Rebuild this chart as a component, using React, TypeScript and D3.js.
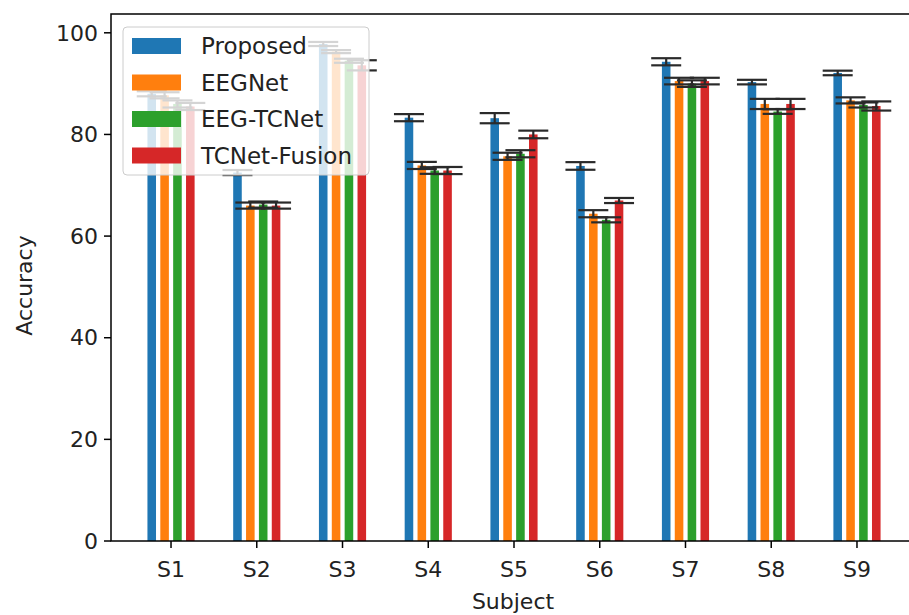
import React from 'react';
import * as d3 from 'd3';

const subjects = ['S1', 'S2', 'S3', 'S4', 'S5', 'S6', 'S7', 'S8', 'S9'];
const methods = ['Proposed', 'EEGNet', 'EEG-TCNet', 'TCNet-Fusion'];
const colors = ['#1f77b4', '#ff7f0e', '#2ca02c', '#d62728'];

// mean accuracy per subject
const proposed = [88.0, 72.5, 97.8, 83.3, 83.2, 73.8, 94.3, 90.3, 92.1];
const eegnet = [87.7, 66.0, 96.3, 73.9, 75.7, 64.4, 90.5, 86.0, 86.7];
const eegtcnet = [86.0, 66.2, 94.5, 72.9, 76.2, 63.2, 90.0, 84.5, 85.8];
const tcnetFusion = [85.5, 66.0, 93.6, 72.9, 80.0, 67.0, 90.5, 86.0, 85.6];

// error (half range)
const proposedErr = [0.5, 0.5, 0.4, 0.7, 1.0, 0.75, 0.7, 0.45, 0.45];
const eegnetErr = [0.6, 0.6, 0.3, 0.7, 0.7, 0.7, 0.65, 1.0, 0.6];
const eegtcnetErr = [0.7, 0.6, 0.4, 0.65, 0.7, 0.5, 0.65, 0.45, 0.5];
const tcnetFusionErr = [0.7, 0.6, 1.0, 0.7, 0.75, 0.5, 0.65, 1.0, 0.9];

const yTicks = [0, 20, 40, 60, 80, 100];

const series = [proposed, eegnet, eegtcnet, tcnetFusion];
const errors = [proposedErr, eegnetErr, eegtcnetErr, tcnetFusionErr];

const W = 909;
const H = 615;
const left = 111, right = 917, top = 14, bottom = 541;
const font = 'DejaVu Sans, sans-serif';

export default function App() {
    const x = d3.scaleLinear().domain([-0.7, subjects.length - 1 + 0.7]).range([left, right]);
    const y = d3.scaleLinear().domain([0, 103.7]).range([bottom, top]);

    const barW = x(0.1) - x(0);
    const step = 0.15;
    const capHalf = 15;

    return (
        <svg width={W} height={H} style={{ position: 'absolute', left: 0, top: 0, background: '#fff' }}
            fontFamily={font}>
            {/* bars */}
            {series.map((vals, si) => (
                <g key={methods[si]}>
                    {vals.map((v, i) => {
                        const cx = x(i + (si - 1.5) * step);
                        return (
                            <rect key={i} x={cx - barW / 2} y={y(v)} width={barW} height={y(0) - y(v)}
                                fill={colors[si]} />
                        );
                    })}
                </g>
            ))}
            {/* error bars */}
            {series.map((vals, si) => (
                <g key={'e' + si} stroke="#2a2a2a" strokeWidth={2.2}>
                    {vals.map((v, i) => {
                        const cx = x(i + (si - 1.5) * step);
                        const hi = y(v + errors[si][i]);
                        const lo = y(v - errors[si][i]);
                        return (
                            <g key={i}>
                                <line x1={cx} x2={cx} y1={hi} y2={lo} />
                                <line x1={cx - capHalf} x2={cx + capHalf} y1={hi} y2={hi} />
                                <line x1={cx - capHalf} x2={cx + capHalf} y1={lo} y2={lo} />
                            </g>
                        );
                    })}
                </g>
            ))}

            {/* frame */}
            <rect x={left} y={top} width={right - left} height={bottom - top} fill="none" stroke="#000" strokeWidth={1.5} />

            {/* y axis */}
            {yTicks.map(t => (
                <g key={t}>
                    <line x1={left - 7} x2={left} y1={y(t)} y2={y(t)} stroke="#000" strokeWidth={1.5} />
                    <text x={left - 13} y={y(t)} dy="0.35em" textAnchor="end" fontSize={22} fill="#222">{t}</text>
                </g>
            ))}
            {/* x axis */}
            {subjects.map((s, i) => (
                <g key={s}>
                    <line x1={x(i)} x2={x(i)} y1={bottom} y2={bottom + 7} stroke="#000" strokeWidth={1.5} />
                    <text x={x(i)} y={bottom + 28} dy="0.35em" textAnchor="middle" fontSize={22} fill="#222">{s}</text>
                </g>
            ))}
            <text x={(left + right) / 2 - 1} y={601} dy="0.35em" textAnchor="middle" fontSize={22} fill="#222">Subject</text>
            <text transform={`translate(24, ${(top + bottom) / 2 + 8}) rotate(-90)`} dy="0.35em" textAnchor="middle"
                fontSize={22} fill="#222">Accuracy</text>

            {/* legend */}
            <rect x={123} y={27} width={246} height={148} rx={4} fill="#fff" fillOpacity={0.8} stroke="#ccc" />
            {methods.map((m, i) => (
                <g key={m} transform={`translate(132, ${46 + i * 36.5})`}>
                    <rect x={0} y={-8} width={49} height={16} fill={colors[i]} />
                    <text x={69} y={0} dy="0.35em" fontSize={23} fill="#222">{m}</text>
                </g>
            ))}
        </svg>
    );
}
